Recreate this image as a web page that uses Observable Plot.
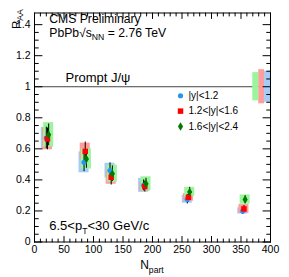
<!DOCTYPE html>
<html><head><meta charset="utf-8">
<script src="https://cdn.jsdelivr.net/npm/d3@7"></script>
<script src="https://cdn.jsdelivr.net/npm/@observablehq/plot@0.6"></script>
<style>body{margin:0;background:#fff} svg{display:block}</style>
</head><body><div id="chart"></div>
<script>
// ---- data ----
const seriesNames = ["|y|<1.2", "1.2<|y|<1.6", "1.6<|y|<2.4"];
const npartBlue  = [20, 84, 128, 185, 259, 353];
const npartRed   = [22, 86, 130, 187, 261, 355];
const npartGreen = [24, 88, 132, 189, 263, 357];
const raaBlue  = [0.67, 0.513, 0.46, 0.365, 0.275, 0.20];
const raaRed   = [0.664, 0.584, 0.417, 0.357, 0.288, 0.213];
const raaGreen = [0.69, 0.535, 0.44, 0.375, 0.322, 0.273];
const statBlue  = [0.07, 0.06, 0.05, 0.035, 0.03, 0.022];
const statRed   = [0.07, 0.06, 0.05, 0.035, 0.03, 0.022];
const statGreen = [0.07, 0.06, 0.05, 0.035, 0.03, 0.025];
const systBlue  = [0.068, 0.067, 0.047, 0.045, 0.025, 0.02];
const systRed   = [0.07, 0.053, 0.045, 0.03, 0.025, 0.028];
const systGreen = [0.079, 0.065, 0.055, 0.045, 0.03, 0.03];
const globalUnc = [0.10, 0.11, 0.091]; // blue, red, green
const xTicks = [0, 50, 100, 150, 200, 250, 300, 350, 400];
const yTicks = [0, 0.2, 0.4, 0.6, 0.8, 1, 1.2, 1.4];

const markerColors = ["#2a93f0", "#ff0000", "#007a00"];
const boxColors = ["#a3cdf7", "#ff9c9c", "#9cf59c"];
const yMax = 1.475;

const npart = [npartBlue, npartRed, npartGreen];
const raa = [raaBlue, raaRed, raaGreen];
const stat = [statBlue, statRed, statGreen];
const syst = [systBlue, systRed, systGreen];
const rows = [];
seriesNames.forEach((s, k) => npart[k].forEach((n, i) => rows.push({
  k, series: s, npart: n, raa: raa[k][i], stat: stat[k][i], syst: syst[k][i]
})));
const globalRows = seriesNames.map((s, k) => ({k, series: s, unc: globalUnc[k]}));

const diamond = {draw(ctx, size) {
  const r = Math.sqrt(size / Math.PI), w = r * 0.78, h = r * 1.3;
  ctx.moveTo(0, -h); ctx.lineTo(w, 0); ctx.lineTo(0, h); ctx.lineTo(-w, 0); ctx.closePath();
}};
const symbols = ["circle", "square", diamond];
const radii = [2.6, 3.1, 3.3];

const tickShape = {draw(ctx, l) { ctx.moveTo(0, 0); ctx.lineTo(0, -l); }};
const minorX = d3.range(0, 401, 10).filter(v => v % 50 !== 0);
const minorY = d3.range(0, 29).map(i => +(i * 0.05).toFixed(2)).filter(v => Math.round(v * 100) % 20 !== 0);
const tk = (data, opts) => Plot.vector(data, {shape: tickShape, anchor: "start", stroke: "black", strokeWidth: 1, fill: "none", ...opts});

const font = "Liberation Sans, Arial, Helvetica, sans-serif";

const chart = Plot.plot({
  width: 289, height: 277,
  marginLeft: 34, marginRight: 19, marginTop: 12.5, marginBottom: 35.5,
  style: {fontFamily: font, background: "#fff", color: "black"},
  x: {domain: [0, 400]},
  y: {domain: [0, yMax]},
  marks: [
    // systematic boxes
    ...[0, 1, 2].map(k => Plot.rect(rows.filter(d => d.k === k), {
      x1: d => d.npart - 8.5, x2: d => d.npart + 8.5,
      y1: d => d.raa - d.syst, y2: d => d.raa + d.syst,
      fill: boxColors[k]
    })),
    Plot.ruleY([1], {stroke: "#444", strokeWidth: 1}),
    // global uncertainty boxes at right edge
    Plot.rect(globalRows, {
      x1: d => 390 - 10 * d.k, x2: d => 400 - 10 * d.k,
      y1: d => 1 - d.unc, y2: d => 1 + d.unc,
      fill: d => boxColors[d.k]
    }),
    // statistical error bars
    Plot.ruleX(rows, {x: "npart", y1: d => d.raa - d.stat, y2: d => d.raa + d.stat, stroke: "black", strokeWidth: 1}),
    // markers
    ...[0, 1, 2].map(k => Plot.dot(rows.filter(d => d.k === k), {
      x: "npart", y: "raa", symbol: () => symbols[k], r: radii[k], fill: markerColors[k], stroke: "none"
    })),
    // frame + ticks
    Plot.frame({stroke: "black", strokeWidth: 1}),
    tk(xTicks, {x: d => d, y: 0, length: 5.5, rotate: 0}),
    tk(minorX, {x: d => d, y: 0, length: 3, rotate: 0}),
    tk(xTicks, {x: d => d, y: yMax, length: 5.5, rotate: 180}),
    tk(minorX, {x: d => d, y: yMax, length: 3, rotate: 180}),
    tk(yTicks, {y: d => d, x: 0, length: 7.5, rotate: 90}),
    tk(minorY, {y: d => d, x: 0, length: 3.8, rotate: 90}),
    tk(yTicks, {y: d => d, x: 400, length: 7.5, rotate: -90}),
    tk(minorY, {y: d => d, x: 400, length: 3.8, rotate: -90}),
    Plot.axisX(xTicks, {tickSize: 0, tickPadding: 3.5, fontSize: 10.5, label: null, tickFormat: d => String(d)}),
    Plot.axisY(yTicks, {tickSize: 0, tickPadding: 4, fontSize: 10.5, label: null, tickFormat: d => String(d)}),
    // axis titles
    Plot.text(["N_{part}"], {x: 219, y: -0.148, text: d => d, textAnchor: "end", lineAnchor: "middle", fontSize: 12}),
    Plot.text(["R_{AA}"], {x: -31.5, y: 1.5, text: d => d, rotate: -90, textAnchor: "end", lineAnchor: "middle", fontSize: 11.5}),
    // annotations
    Plot.text(["CMS Preliminary"], {x: 25, y: 1.4354, text: d => d, textAnchor: "start", lineAnchor: "middle", fontSize: 12.2}),
    Plot.text(["PbPb√s_{NN} = 2.76 TeV"], {x: 25, y: 1.3486, text: d => d, textAnchor: "start", lineAnchor: "middle", fontSize: 12.2}),
    Plot.text(["Prompt J/ψ"], {x: 52.5, y: 1.058, text: d => d, textAnchor: "start", lineAnchor: "middle", fontSize: 13}),
    Plot.text(["6.5<p_{T}<30 GeV/c"], {x: 25, y: 0.106, text: d => d, textAnchor: "start", lineAnchor: "middle", fontSize: 13}),
    // legend
    ...[0, 1, 2].map(k => Plot.dot([seriesNames[k]], {
      x: 247.5, y: 0.942 - k * 0.099, symbol: () => symbols[k], r: radii[k], fill: markerColors[k], stroke: "none"
    })),
    Plot.text(seriesNames, {x: 261, y: (d, i) => 0.942 - i * 0.099, text: d => d, textAnchor: "start", lineAnchor: "middle", fontSize: 10})
  ]
});

// rich text: _{sub}
const svgNS = "http://www.w3.org/2000/svg";
chart.querySelectorAll("text").forEach(el => {
  const s = el.textContent;
  if (!/_\{/.test(s)) return;
  const fs = parseFloat(getComputedStyle(el).fontSize) || 12;
  const parts = [];
  const re = /_\{([^}]*)\}/g;
  let last = 0, m;
  while ((m = re.exec(s))) {
    if (m.index > last) parts.push({t: s.slice(last, m.index), sub: false});
    parts.push({t: m[1], sub: true});
    last = re.lastIndex;
  }
  if (last < s.length) parts.push({t: s.slice(last), sub: false});
  while (el.firstChild) el.removeChild(el.firstChild);
  let cur = 0;
  for (const p of parts) {
    const ts = document.createElementNS(svgNS, "tspan");
    const off = p.sub ? fs * 0.32 : 0;
    if (off - cur !== 0) ts.setAttribute("dy", off - cur);
    cur = off;
    if (p.sub) ts.setAttribute("font-size", fs * 0.72);
    ts.setAttribute("fill", "black");
    ts.textContent = p.t;
    el.appendChild(ts);
  }
});

document.getElementById("chart").appendChild(chart);
</script>
</body></html>
